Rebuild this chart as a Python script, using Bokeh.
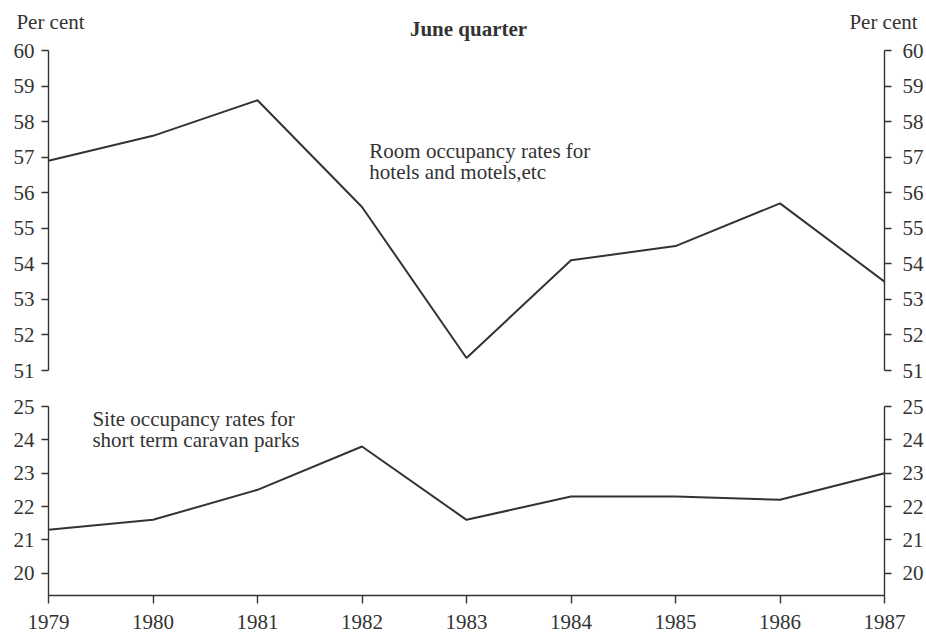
from bokeh.plotting import figure
from bokeh.models import Range1d, LinearAxis, FixedTicker
from bokeh.layouts import column
from bokeh.embed import file_html
from bokeh.resources import INLINE
from bokeh.core.properties import value

years = [1979, 1980, 1981, 1982, 1983, 1984, 1985, 1986, 1987]
room_rates = [56.9, 57.6, 58.6, 55.6, 51.35, 54.1, 54.5, 55.7, 53.5]
site_rates = [21.3, 21.6, 22.5, 23.8, 21.6, 22.3, 22.3, 22.2, 23.0]
top_ticks = [51, 52, 53, 54, 55, 56, 57, 58, 59, 60]
bottom_ticks = [20, 21, 22, 23, 24, 25]
unit_label = "Per cent"
title_label = "June quarter"

FONT = "Liberation Serif"
INK = "#333333"
W = 926
FS = "21px"
LEFT, RIGHT = 48, 42


def style_axis(ax, ticks, side):
    ax.ticker = FixedTicker(ticks=ticks)
    ax.axis_line_color = INK
    ax.axis_line_width = 1.4
    ax.major_tick_line_color = INK
    ax.major_tick_line_width = 1.4
    ax.major_tick_out = 7
    ax.major_tick_in = 0
    ax.minor_tick_line_color = None
    ax.major_label_text_font = FONT
    ax.major_label_text_font_size = FS
    ax.major_label_text_color = INK
    ax.major_label_standoff = 11 if side == "right" else 7


def base_fig(height, ylo, yhi, top, bottom):
    p = figure(width=W, height=height, output_backend="svg", toolbar_location=None,
               title=None,
               x_range=Range1d(1979, 1987), y_range=Range1d(ylo, yhi),
               x_axis_location=None, y_axis_location="left",
               min_border_left=LEFT, min_border_right=RIGHT,
               min_border_top=top, min_border_bottom=bottom)
    p.outline_line_color = None
    p.grid.visible = False
    p.background_fill_color = "white"
    p.border_fill_color = "white"
    return p


def header_axis(ticks, labels, standoff, bold=False):
    # tick-less axis in the top border used only to place header texts
    ax = LinearAxis(x_range_name="px")
    ax.ticker = FixedTicker(ticks=ticks)
    ax.major_label_overrides = dict(zip(ticks, labels))
    ax.axis_line_color = None
    ax.major_tick_line_color = None
    ax.minor_tick_line_color = None
    ax.major_tick_out = 0
    ax.major_tick_in = 0
    ax.major_label_standoff = standoff
    ax.major_label_text_font = FONT
    ax.major_label_text_font_size = FS
    ax.major_label_text_color = INK
    ax.major_label_text_font_style = "bold" if bold else "normal"
    return ax


# ---- top panel: room occupancy
top = base_fig(388, 51, 60, 50, 18)
top.extra_x_ranges = {"px": Range1d(LEFT, W - RIGHT)}
style_axis(top.yaxis[0], top_ticks, "left")
rax = LinearAxis()
style_axis(rax, top_ticks, "right")
top.add_layout(rax, "right")
top.line(years, room_rates, line_color=INK, line_width=2)

top.text(x=[1982.07, 1982.07], y=[57.16, 56.57],
         text=["Room occupancy rates for", "hotels and motels,etc"],
         text_font=value(FONT), text_font_size=FS, text_color=INK,
         text_baseline="middle", text_align="left")

top.add_layout(header_axis([468], [title_label], 10, bold=True), "above")
top.add_layout(header_axis([50, 883], [unit_label, unit_label], -20), "above")

# ---- bottom panel: caravan parks
bot = base_fig(244, 19.33, 25, 18, 37)
style_axis(bot.yaxis[0], bottom_ticks, "left")
rax2 = LinearAxis()
style_axis(rax2, bottom_ticks, "right")
bot.add_layout(rax2, "right")
xax = LinearAxis()
style_axis(xax, years, "bottom")
xax.major_tick_out = 8
xax.major_label_standoff = 11
bot.add_layout(xax, "below")
bot.line(years, site_rates, line_color=INK, line_width=2)

bot.text(x=[1979.42, 1979.42], y=[24.63, 24.0],
         text=["Site occupancy rates for", "short term caravan parks"],
         text_font=value(FONT), text_font_size=FS, text_color=INK,
         text_baseline="middle", text_align="left")

layout = column(top, bot, spacing=0)
open("out.html", "w").write(file_html(layout, INLINE))
